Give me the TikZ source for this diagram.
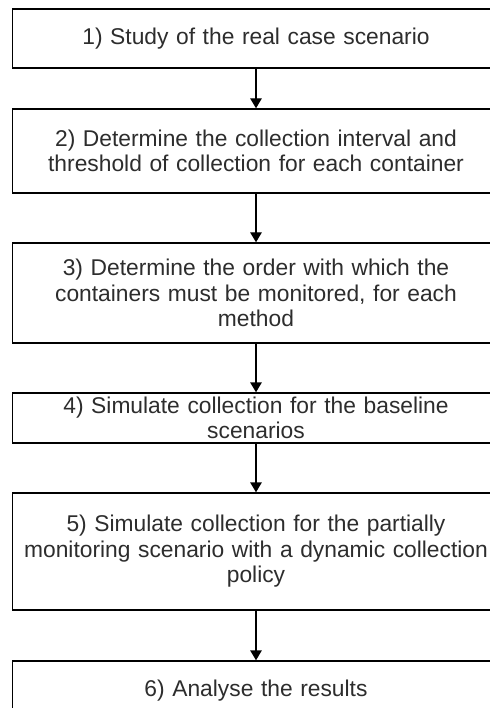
\documentclass[tikz,border=0pt]{standalone}
\usepackage{fontspec}
\setmainfont{Liberation Sans}
\usetikzlibrary{arrows.meta}
\definecolor{txt}{RGB}{45,45,45}
\begin{document}
\begin{tikzpicture}[x=1pt,y=-1pt,
  stepbox/.style={draw=black, line width=1.4pt, fill=white, minimum width=487pt,
    inner sep=0pt, text width=487pt, align=center, text=txt,
    font=\fontsize{22.8}{25.5}\selectfont},
  flow/.style={draw=black, line width=1.4pt, -{Triangle[length=10pt,width=11.5pt]}}]
\useasboundingbox (0,0) rectangle (489,708);
\node[stepbox, minimum height=59pt]  (s1) at (256,38.5)  {1) Study of the real case scenario};
\node[stepbox, minimum height=84pt]  (s2) at (256,151)   {2) Determine the collection interval and\\threshold of collection for each container};
\node[stepbox, minimum height=100pt] (s3) at (256,293)   {3) Determine the order with which the\\containers must be monitored, for each\\method};
\node[stepbox, minimum height=50pt]  (s4) at (256,418)   {4) Simulate collection for the baseline\\scenarios};
\node[stepbox, minimum height=117pt] (s5) at (256,551.5) {5) Simulate collection for the partially\\monitoring scenario with a dynamic collection\\policy};
\node[stepbox, minimum height=59pt]  (s6) at (256,690.5) {6) Analyse the results};
\draw[flow] (s1) -- (s2);
\draw[flow] (s2) -- (s3);
\draw[flow] (s3) -- (s4);
\draw[flow] (s4) -- (s5);
\draw[flow] (s5) -- (s6);
\end{tikzpicture}
\end{document}
